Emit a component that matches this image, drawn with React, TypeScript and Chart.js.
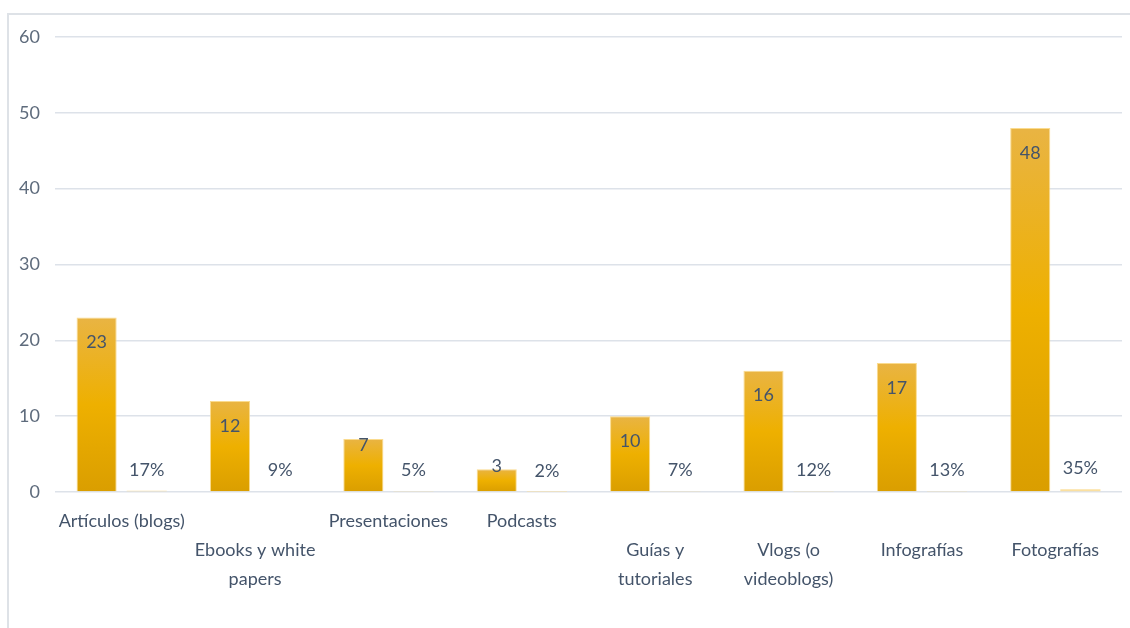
import React, { useEffect, useRef } from "react";
import { Chart, registerables } from "chart.js";

Chart.register(...registerables);

const categories: string[][] = [
  ["Artículos (blogs)"],
  ["", "Ebooks y white", "papers"],
  ["Presentaciones"],
  ["Podcasts"],
  ["", "Guías y", "tutoriales"],
  ["", "Vlogs (o", "videoblogs)"],
  ["", "Infografías"],
  ["", "Fotografías"],
];
const counts: number[] = [23, 12, 7, 3, 10, 16, 17, 48];
const percents: number[] = [17, 9, 5, 2, 7, 12, 13, 35];
const yTicks: number[] = [0, 10, 20, 30, 40, 50, 60];

const FONT = "Lato, 'Open Sans', sans-serif";
const TEXT = "#44546A";
const FS = 18;

const labelPlugin = {
  id: "valueLabels",
  afterDatasetsDraw(chart: any) {
    const ctx = chart.ctx;
    ctx.save();
    ctx.font = `${FS}px ${FONT}`;
    ctx.fillStyle = TEXT;
    ctx.textAlign = "center";
    ctx.textBaseline = "middle";
    chart.data.datasets.forEach((ds: any, di: number) => {
      const meta = chart.getDatasetMeta(di);
      meta.data.forEach((bar: any, i: number) => {
        const top = bar.y;
        const base = bar.base;
        if (di === 0) {
          const h = base - top;
          const off = Math.max(-3, Math.min(25, h - 46));
          ctx.fillText(String(counts[i]), bar.x, top + off);
        } else {
          ctx.fillText(percents[i] + "%", bar.x, top - 21);
        }
      });
    });
    ctx.restore();
  },
};

function gradientFor(context: any) {
  const chart = context.chart;
  const { ctx, chartArea, scales } = chart;
  if (!chartArea || !scales.y) return "#EEB000";
  const v = context.raw as number;
  const yTop = scales.y.getPixelForValue(v);
  const y0 = scales.y.getPixelForValue(0);
  if (!isFinite(yTop) || !isFinite(y0) || y0 - yTop < 1) return "#EEB000";
  const g = ctx.createLinearGradient(0, yTop, 0, y0);
  g.addColorStop(0, "#E9B443");
  g.addColorStop(0.5, "#EEB000");
  g.addColorStop(1, "#DA9E00");
  return g;
}

export default function App() {
  const ref = useRef<HTMLCanvasElement | null>(null);
  useEffect(() => {
    if (!ref.current) return;
    const chart = new Chart(ref.current, {
      type: "bar",
      data: {
        labels: categories,
        datasets: [
          {
            label: "Cantidad",
            data: counts,
            backgroundColor: gradientFor,
            borderColor: "rgba(250,215,130,0.9)",
            borderWidth: 1,
            categoryPercentage: 0.752,
            barPercentage: 0.8,
          },
          {
            label: "Porcentaje",
            data: percents.map((p) => p / 100),
            backgroundColor: "#FBE0A0",
            borderWidth: 0,
            categoryPercentage: 0.752,
            barPercentage: 0.8,
          },
        ],
      },
      options: {
        responsive: false,
        animation: false,
        layout: { padding: { top: 37, right: 8, left: 0, bottom: 0 } },
        plugins: {
          legend: { display: false },
          tooltip: { enabled: false },
        },
        scales: {
          x: {
            grid: { display: false, drawTicks: false },
            border: { display: false },
            ticks: {
              color: TEXT,
              font: { family: FONT, size: FS, lineHeight: "29px" as any },
              padding: 15,
              maxRotation: 0,
              autoSkip: false,
            },
            afterFit: (s: any) => {
              s.height = 628 - 492;
            },
          },
          y: {
            min: 0,
            max: 60,
            afterBuildTicks: (s: any) => {
              s.ticks = yTicks.map((v) => ({ value: v }));
            },
            grid: { color: "#DDE2E9", lineWidth: 1.6, drawTicks: false },
            border: { display: false },
            ticks: {
              color: "#5E6B7C",
              font: { family: FONT, size: FS },
              padding: 15,
            },
            afterFit: (s: any) => {
              s.width = 55;
            },
          },
        },
      },
      plugins: [labelPlugin],
    });
    return () => chart.destroy();
  }, []);

  return (
    <div
      style={{
        position: "fixed",
        left: 0,
        top: 0,
        width: 1130,
        height: 628,
        overflow: "hidden",
        background: "#fff",
      }}
    >
      <div
        style={{
          position: "absolute",
          left: 7,
          top: 13,
          width: 1200,
          height: 700,
          border: "2px solid #DEE2E7",
          boxSizing: "border-box",
        }}
      />
      <canvas
        ref={ref}
        width={1130}
        height={628}
        style={{ position: "absolute", left: 0, top: 0, width: 1130, height: 628 }}
      />
    </div>
  );
}
